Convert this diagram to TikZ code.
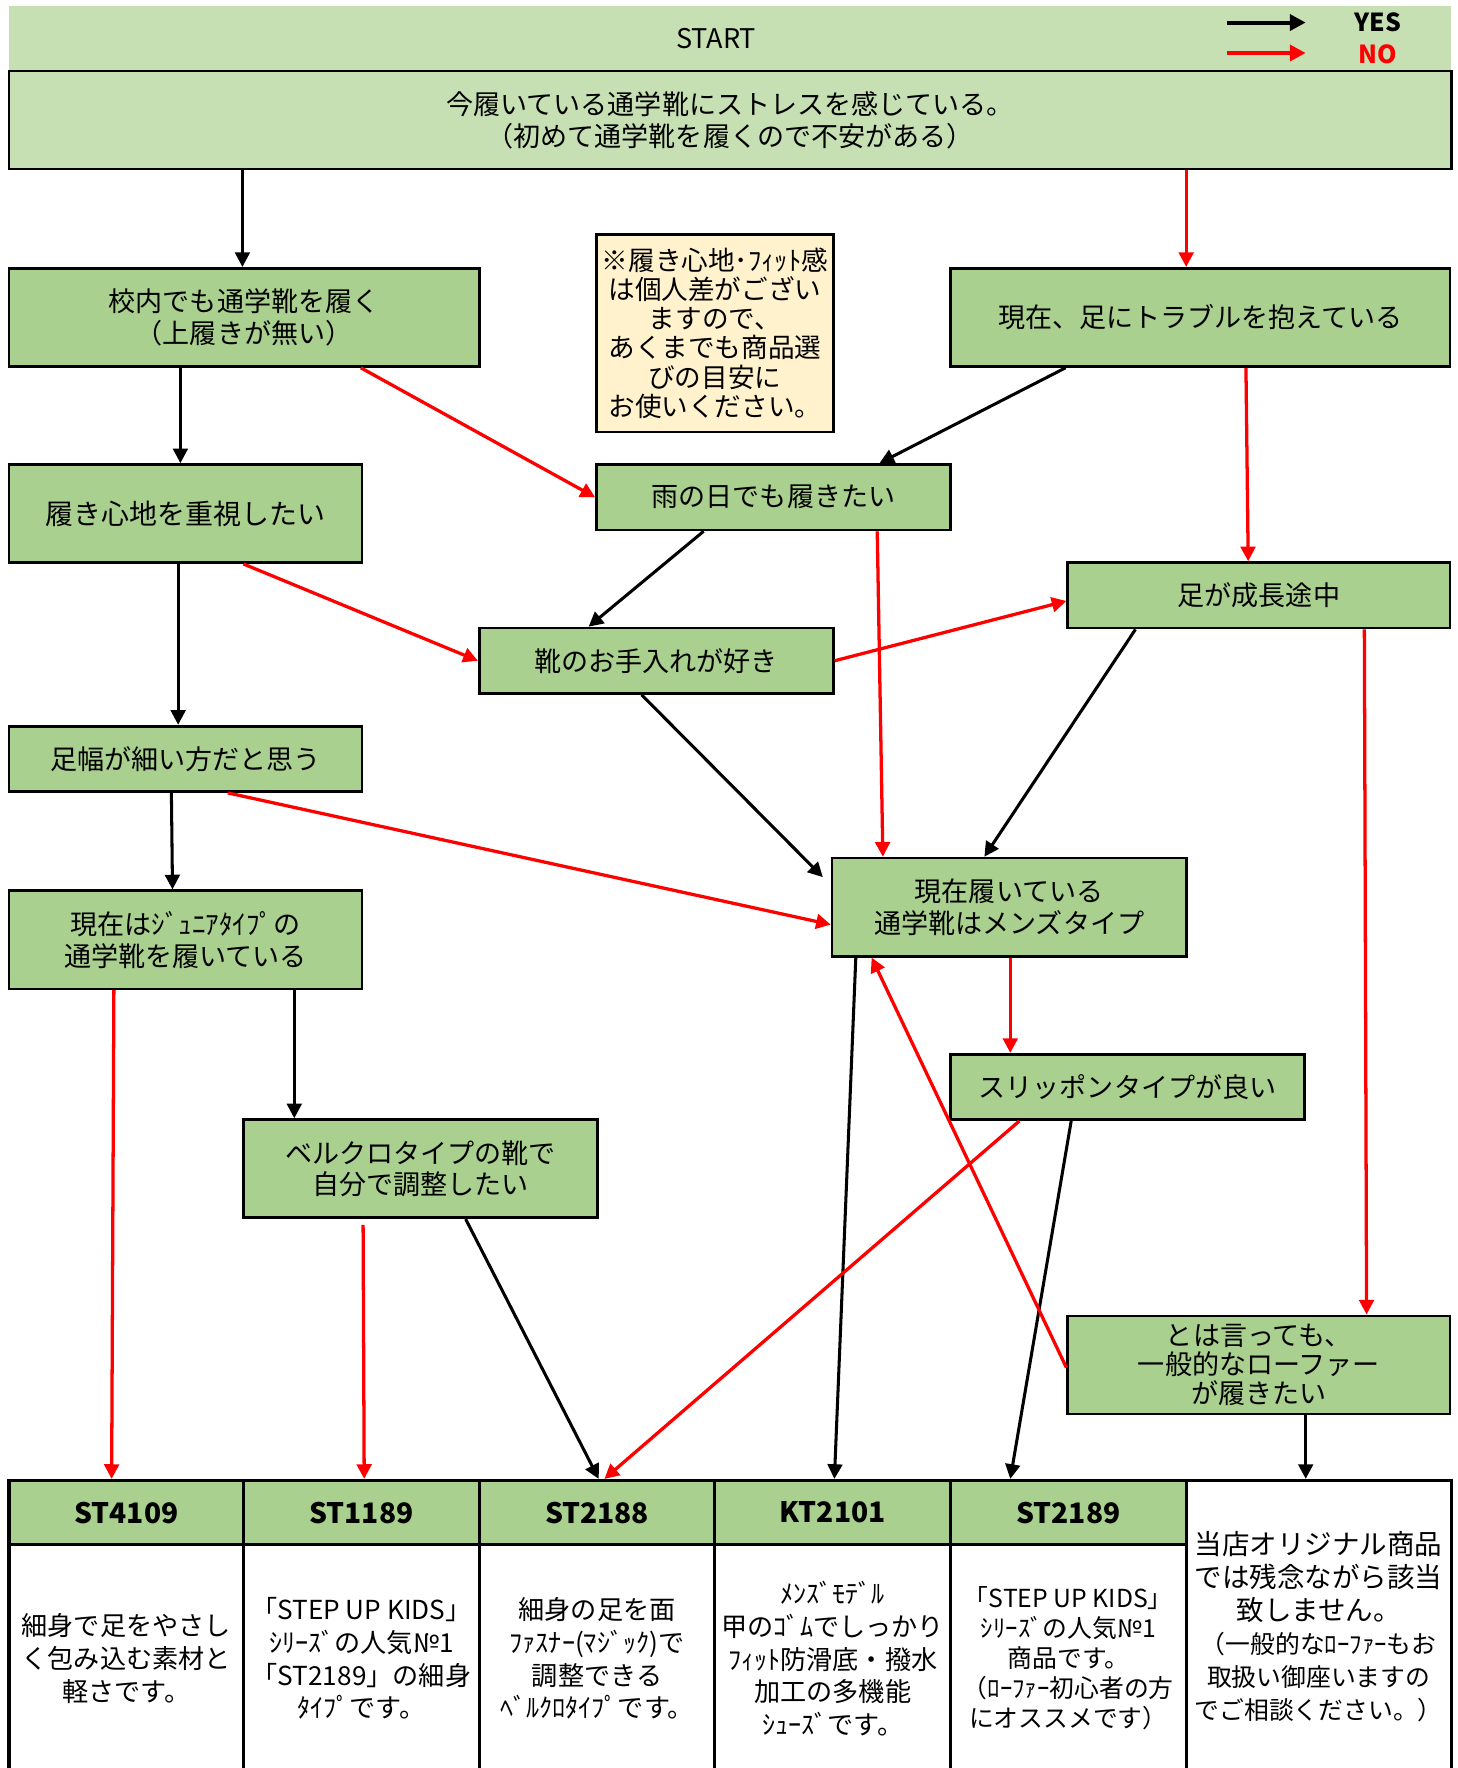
\documentclass[tikz,border=0pt]{standalone}
\usepackage{fontspec}
\newfontfamily\jp{Noto Sans CJK JP}
\usetikzlibrary{arrows.meta}
\definecolor{lgreen}{HTML}{C6E0B4}
\definecolor{mgreen}{HTML}{A9D08E}
\definecolor{cream}{HTML}{FFF2CC}
\definecolor{myred}{HTML}{FF0000}
\begin{document}
\begin{tikzpicture}[x=0.5pt,y=-0.5pt,
  box/.style={draw, line width=1.2pt, fill=mgreen, inner sep=0pt, align=center,
    font=\jp\fontsize{12}{14}\selectfont},
  cell/.style={draw, line width=1.4pt, fill=white, inner sep=0pt, align=center,
    font=\jp\fontsize{11.6}{14.5}\selectfont},
  head/.style={cell, fill=mgreen, font=\jp\bfseries\fontsize{12.5}{14}\selectfont},
  yesarr/.style={line width=1.35pt, draw=black, -{Triangle[length=6.5pt,width=6.5pt]}},
  noarr/.style={yesarr, draw=myred, color=myred, line width=1.45pt},
  legarr/.style={line width=1.8pt, -{Triangle[length=7pt,width=7pt]}}]
\path[use as bounding box] (0,0) rectangle (1293,1568);
\clip (0,0) rectangle (1293,1568);

% top strip and legend
\node[fill=lgreen, minimum width=639.5pt, minimum height=28.5pt, inner sep=0pt] (start) at (647.5,33.5) {};
\node[font=\jp\fontsize{12}{14}\selectfont] (starttxt) at (635,34) {START};
\coordinate (ya) at (1088,20); \coordinate (yb) at (1158,20);
\coordinate (na) at (1088,47); \coordinate (nb) at (1158,47);
\node[font=\jp\bfseries\fontsize{11}{13}\selectfont] (yes) at (1222,20) {YES};
\node[font=\jp\bfseries\fontsize{11}{13}\selectfont, text=myred] (no) at (1222,48) {NO};
\draw[legarr, black] (ya) -- (yb);
\draw[legarr, myred] (na) -- (nb);

% question boxes
\node[box, fill=lgreen, minimum width=639.5pt, minimum height=43.5pt] (q0) at (647.5,106.5)
  {今履いている通学靴にストレスを感じている。\\（初めて通学靴を履くので不安がある）};
\node[box, minimum width=208.5pt, minimum height=43.5pt] (q1) at (216.5,281.5)
  {校内でも通学靴を履く\\（上履きが無い）};
\node[box, fill=cream, minimum width=105pt, minimum height=87.5pt, font=\jp\fontsize{11.8}{13}\selectfont] (note) at (634,295.5)
  {※履き心地･ﾌｨｯﾄ感\\は個人差がござい\\ますので、\\あくまでも商品選\\びの目安に\\お使いください。};
\node[box, minimum width=221.5pt, minimum height=43.5pt] (q2) at (1064.5,281.5)
  {現在、足にトラブルを抱えている};
\node[box, minimum width=156.5pt, minimum height=43.5pt, font=\jp\fontsize{12.4}{14}\selectfont] (q3) at (164.5,455.5)
  {履き心地を重視したい};
\node[box, minimum width=157pt, minimum height=29pt] (q4) at (686,441)
  {雨の日でも履きたい};
\node[box, minimum width=169.5pt, minimum height=29pt] (q5) at (1116.5,528)
  {足が成長途中};
\node[box, minimum width=157pt, minimum height=29pt] (q6) at (582,586)
  {靴のお手入れが好き};
\node[box, minimum width=156.5pt, minimum height=29pt] (q7) at (164.5,673)
  {足幅が細い方だと思う};
\node[box, minimum width=156.5pt, minimum height=43.5pt] (q8) at (164.5,833.5)
  {現在はｼﾞｭﾆｱﾀｲﾌﾟの\\通学靴を履いている};
\node[box, minimum width=157pt, minimum height=43.5pt] (q9) at (895,804.5)
  {現在履いている\\通学靴はメンズタイプ};
\node[box, minimum width=157pt, minimum height=29pt] (q10) at (1000,964)
  {スリッポンタイプが良い};
\node[box, minimum width=157pt, minimum height=43.5pt] (q11) at (373,1036.5)
  {ベルクロタイプの靴で\\自分で調整したい};
\node[box, minimum width=169.5pt, minimum height=43.5pt, font=\jp\fontsize{12}{13}\selectfont] (q12) at (1116.5,1210.5)
  {とは言っても、\\一般的なローファー\\が履きたい};

% product table
\node[head, minimum width=104pt, minimum height=28.5pt] (h1) at (112,1341.5) {ST4109};
\node[head, minimum width=104.5pt, minimum height=28.5pt] (h2) at (320.5,1341.5) {ST1189};
\node[head, minimum width=104.5pt, minimum height=28.5pt] (h3) at (529.5,1341.5) {ST2188};
\node[head, minimum width=104.5pt, minimum height=28.5pt] (h4) at (738.5,1341.5) {KT2101};
\node[head, minimum width=104.5pt, minimum height=28.5pt] (h5) at (947.5,1341.5) {ST2189};
\node[cell, minimum width=104pt, minimum height=101pt] (b1) at (112,1471)
  {細身で足をやさし\\く包み込む素材と\\軽さです。};
\node[cell, minimum width=104.5pt, minimum height=101pt] (b2) at (320.5,1471)
  {「STEP UP KIDS」\\ｼﾘｰｽﾞの人気№1\\「ST2189」の細身\\ﾀｲﾌﾟです。};
\node[cell, minimum width=104.5pt, minimum height=101pt] (b3) at (529.5,1471)
  {細身の足を面\\ﾌｧｽﾅｰ(ﾏｼﾞｯｸ)で\\調整できる\\ﾍﾞﾙｸﾛﾀｲﾌﾟです。};
\node[cell, minimum width=104.5pt, minimum height=101pt] (b4) at (738.5,1471)
  {ﾒﾝｽﾞﾓﾃﾞﾙ\\甲のｺﾞﾑでしっかり\\ﾌｨｯﾄ防滑底・撥水\\加工の多機能\\ｼｭｰｽﾞです。};
\node[cell, minimum width=104.5pt, minimum height=101pt, font=\jp\fontsize{11}{13.3}\selectfont] (b5) at (947.5,1471)
  {「STEP UP KIDS」\\ｼﾘｰｽﾞの人気№1\\商品です。\\（ﾛｰﾌｧｰ初心者の方\\にオススメです）};
\node[cell, minimum width=117.5pt, minimum height=129.5pt, font=\jp\fontsize{12.2}{14.7}\selectfont] (b6) at (1169.5,1442.5)
  {当店オリジナル商品\\では残念ながら該当\\致しません。\\{\fontsize{11}{13}\selectfont （一般的なﾛｰﾌｧｰもお}\\{\fontsize{11}{13}\selectfont 取扱い御座いますの}\\{\fontsize{11}{13}\selectfont でご相談ください。）}};

% YES arrows
\draw[yesarr] (q0.south -| 215,0) -- (q1.north -| 215,0);
\draw[yesarr] (q1.south -| 160,0) -- (q3.north -| 160,0);
\draw[yesarr] (q2.south -| 945,0) -- (q4.north -| 780,0);
\draw[yesarr] (q3.south -| 158,0) -- (q7.north -| 158,0);
\draw[yesarr] (q4.south -| 624,0) -- (q6.north -| 522,0);
\draw[yesarr, shorten >=5pt] (q6.south -| 569,0) -- (q9.west |- 0,785);
\draw[yesarr] (q5.south -| 1007,0) -- (q9.north -| 873,0);
\draw[yesarr] (q7.south -| 152,0) -- (q8.north -| 153,0);
\draw[yesarr] (q8.south -| 261,0) -- (q11.north -| 261,0);
\draw[yesarr] (q9.south -| 759,0) -- (h4.north -| 740,0);
\draw[yesarr] (q10.south -| 950,0) -- (h5.north -| 896,0);
\draw[yesarr] (q11.south -| 413,0) -- (h3.north -| 531,0);
\draw[yesarr] (q12.south -| 1158,0) -- (b6.north -| 1158,0);

% NO arrows
\draw[noarr] (q0.south -| 1052,0) -- (q2.north -| 1052,0);
\draw[noarr] (q1.south -| 320,0) -- (q4.west);
\draw[noarr] (q2.south -| 1105,0) -- (q5.north -| 1107,0);
\draw[noarr] (q3.south -| 216,0) -- (q6.west);
\draw[noarr] (q4.south -| 778,0) -- (q9.north -| 783,0);
\draw[noarr] (q6.east) -- (q5.west |- 0,533);
\draw[noarr] (q5.south -| 1210,0) -- (q12.north -| 1212,0);
\draw[noarr] (q7.south -| 202,0) -- (q9.west |- 0,820);
\draw[noarr] (q8.south -| 101,0) -- (h1.north -| 99,0);
\draw[noarr] (q9.south -| 896,0) -- (q10.north -| 896,0);
\draw[noarr] (q10.south -| 904,0) -- (h3.north -| 536,0);
\draw[noarr, shorten <=2.5pt] (q11.south -| 322,0) -- (h2.north -| 323,0);
\draw[noarr] (q12.west |- 0,1213) -- (q9.south -| 773,0);
\end{tikzpicture}
\end{document}
